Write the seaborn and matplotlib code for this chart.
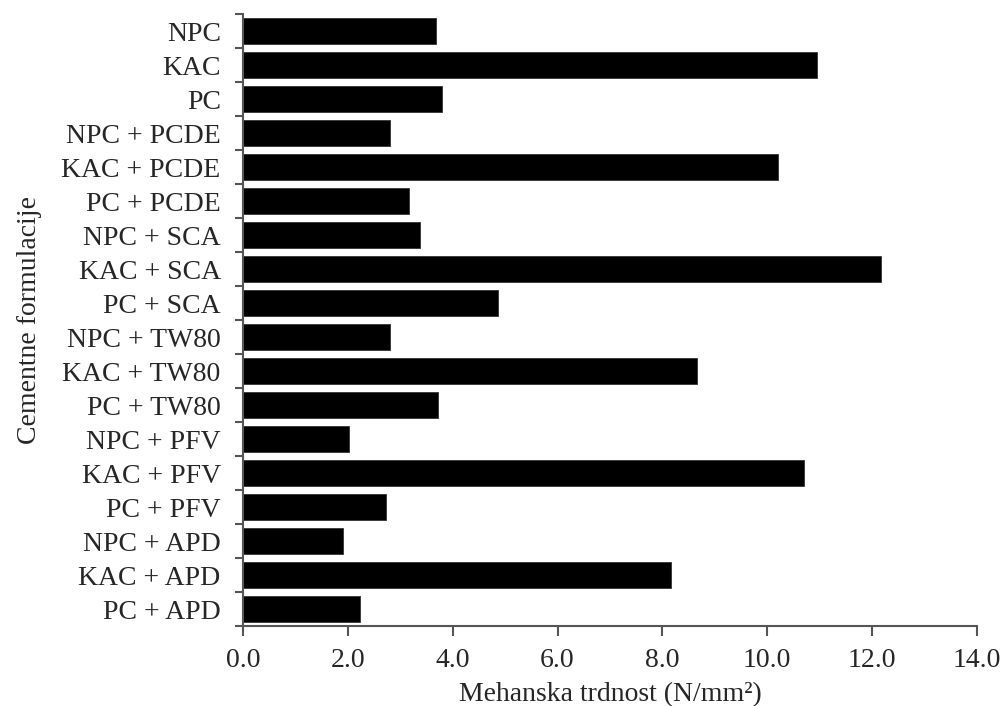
import numpy as np
import pandas as pd
import matplotlib
matplotlib.use("Agg")
import matplotlib.pyplot as plt
import seaborn as sns
from matplotlib.ticker import FixedLocator

# Podatki: cementne formulacije in mehanska trdnost (N/mm2)
formulacije = ["NPC", "KAC", "PC",
               "NPC + PCDE", "KAC + PCDE", "PC + PCDE",
               "NPC + SCA", "KAC + SCA", "PC + SCA",
               "NPC + TW80", "KAC + TW80", "PC + TW80",
               "NPC + PFV", "KAC + PFV", "PC + PFV",
               "NPC + APD", "KAC + APD", "PC + APD"]
trdnost = [3.69, 10.95, 3.80,
           2.80, 10.21, 3.17,
           3.37, 12.17, 4.86,
           2.80, 8.66, 3.72,
           2.03, 10.70, 2.73,
           1.91, 8.16, 2.23]
x_ticks = [0, 2, 4, 6, 8, 10, 12, 14]

df = pd.DataFrame({"Formulacija": formulacije, "Trdnost": trdnost})

sns.set_style("ticks")
plt.rcParams['font.family'] = ['Liberation Serif', 'DejaVu Serif']

fig = plt.figure(figsize=(10.04, 7.06), dpi=100)
ax = fig.add_axes([0.242, 0.113, 0.731, 0.867])

sns.barplot(data=df, x="Trdnost", y="Formulacija", orient="h",
            color="black", saturation=1, width=0.76,
            edgecolor="#333333", linewidth=0.6, ax=ax)

ax.set_xlim(0, 14)
ax.set_ylim(len(formulacije) - 0.5, -0.5)
ax.set_xticks(x_ticks)
ax.set_xticklabels([f"{v:.1f}" for v in x_ticks])

# kljukice na osi y med kategorijami
ax.yaxis.set_minor_locator(FixedLocator(np.arange(-0.5, len(formulacije), 1.0)))
ax.tick_params(axis="y", which="major", length=0, pad=16, labelsize=20)
ax.tick_params(axis="y", which="minor", length=6, width=1.5, color="#555555")
ax.tick_params(axis="x", which="major", length=7, width=1.5, color="#555555",
               pad=9, labelsize=20)

for s in ["top", "right"]:
    ax.spines[s].set_visible(False)
for s in ["left", "bottom"]:
    ax.spines[s].set_color("#555555")
    ax.spines[s].set_linewidth(1.5)

ax.set_xlabel("Mehanska trdnost (N/mm²)", fontsize=20, labelpad=6)
ax.set_ylabel("Cementne formulacije", fontsize=20, labelpad=14)

fig.savefig("out.png", dpi=100)
